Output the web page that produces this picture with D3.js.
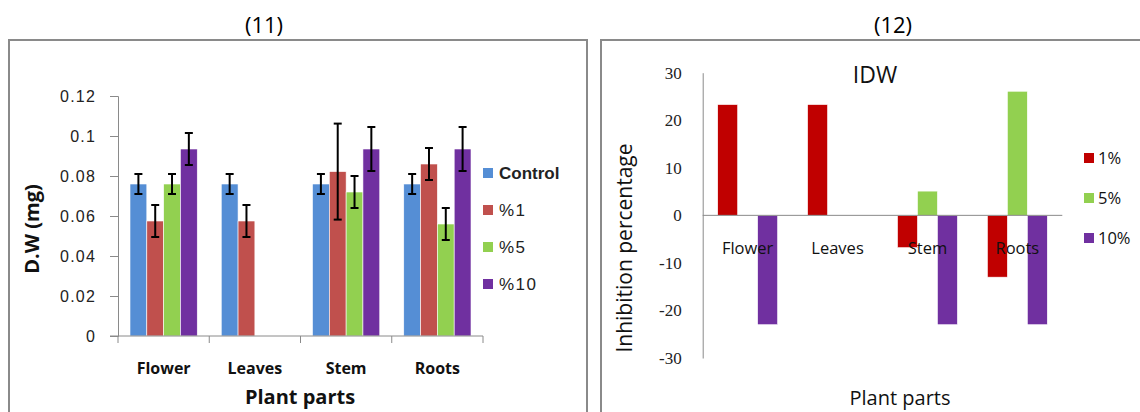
<!DOCTYPE html>
<html><head><meta charset="utf-8">
<script src="https://cdn.jsdelivr.net/npm/d3@7"></script>
<style>html,body{margin:0;padding:0;background:#fff;}svg{display:block;}</style>
</head><body>
<svg id="c" width="1140" height="412"></svg>
<script>
// ---------- data ----------
const categories = ["Flower", "Leaves", "Stem", "Roots"];
const dwSeries = ["Control", "%1", "%5", "%10"];
const dwControl = [0.076, 0.076, 0.076, 0.076];
const dwP1 = [0.0575, 0.0575, 0.0822, 0.086];
const dwP5 = [0.076, null, 0.072, 0.056];
const dwP10 = [0.0935, null, 0.0935, 0.0935];
const errControl = [0.005, 0.005, 0.005, 0.005];
const errP1 = [0.008, 0.008, 0.024, 0.008];
const errP5 = [0.005, null, 0.008, 0.008];
const errP10 = [0.008, null, 0.011, 0.011];
const dwTicks = [0, 0.02, 0.04, 0.06, 0.08, 0.1, 0.12];
const dwTickLabels = ["0", "0.02", "0.04", "0.06", "0.08", "0.1", "0.12"];

const idwSeries = ["1%", "5%", "10%"];
const idw1 = [23.3, 23.3, -6.8, -13];
const idw5 = [0, 0, 5.1, 26.1];
const idw10 = [-23, null, -23, -23];
const idwTicks = [-30, -20, -10, 0, 10, 20, 30];

const dwColors = ["#558ED5", "#C0504D", "#92D050", "#7030A0"];
const idwColors = ["#C00000", "#92D050", "#7030A0"];

const svg = d3.select("#c");
const CAL = "'Open Sans', Lato, sans-serif";
const ARI = "'Liberation Sans', Arial, sans-serif";
const SER = "'Liberation Serif', 'Times New Roman', Tinos, 'DejaVu Serif', serif";

// frames
svg.append("rect").attr("x", 9).attr("y", 40).attr("width", 578).attr("height", 390)
  .attr("fill", "none").attr("stroke", "#8a8a8a").attr("stroke-width", 2);
svg.append("rect").attr("x", 601).attr("y", 40).attr("width", 560).attr("height", 390)
  .attr("fill", "none").attr("stroke", "#8a8a8a").attr("stroke-width", 2);

svg.append("text").attr("x", 264).attr("y", 33).attr("text-anchor", "middle")
  .style("font-family", CAL).style("font-size", "22px").attr("fill", "#000").text("(11)");
svg.append("text").attr("x", 893).attr("y", 33).attr("text-anchor", "middle")
  .style("font-family", CAL).style("font-size", "22px").attr("fill", "#000").text("(12)");

// ---------- left chart ----------
{
  const means = [dwControl, dwP1, dwP5, dwP10];
  const errs = [errControl, errP1, errP5, errP10];
  const x0 = d3.scaleBand().domain(categories).range([118, 483]);
  const bw = x0.bandwidth();
  const x1 = d3.scaleBand().domain(dwSeries).range([12, bw - 12]);
  const y = d3.scaleLinear().domain([0, 0.12]).range([336, 96]);
  const g = svg.append("g");

  const data = [];
  categories.forEach((c, i) => dwSeries.forEach((s, j) => {
    if (means[j][i] != null) data.push({c, s, j, v: means[j][i], e: errs[j][i]});
  }));

  g.selectAll("rect.bar").data(data).enter().append("rect")
    .attr("x", d => x0(d.c) + x1(d.s)).attr("width", x1.bandwidth())
    .attr("y", d => y(d.v)).attr("height", d => y(0) - y(d.v))
    .attr("fill", d => dwColors[d.j]).attr("stroke", "#fff").attr("stroke-width", 0.6);

  // error bars
  const eb = g.selectAll("g.eb").data(data.filter(d => d.e != null)).enter().append("g")
    .attr("stroke", "#000").attr("stroke-width", 2);
  const cx = d => x0(d.c) + x1(d.s) + x1.bandwidth() / 2;
  eb.append("line").attr("x1", cx).attr("x2", cx).attr("y1", d => y(d.v + d.e)).attr("y2", d => y(d.v - d.e));
  eb.append("line").attr("x1", d => cx(d) - 4).attr("x2", d => cx(d) + 4).attr("y1", d => y(d.v + d.e)).attr("y2", d => y(d.v + d.e));
  eb.append("line").attr("x1", d => cx(d) - 4).attr("x2", d => cx(d) + 4).attr("y1", d => y(d.v - d.e)).attr("y2", d => y(d.v - d.e));

  // y axis
  const ya = g.append("g").attr("transform", "translate(118,0)")
    .call(d3.axisLeft(y).tickValues(dwTicks).tickFormat((d, i) => dwTickLabels[i]).tickSize(8).tickPadding(14));
  ya.select(".domain").attr("stroke", "#8a8a8a");
  ya.selectAll(".tick line").attr("stroke", "#8a8a8a");
  ya.selectAll(".tick text").style("font-family", ARI).style("font-size", "16px").attr("fill", "#222")
    .attr("letter-spacing", 1.2);

  // x axis
  const xa = g.append("g").attr("transform", "translate(0,336)");
  xa.append("line").attr("x1", 110).attr("x2", 483).attr("y1", 0).attr("y2", 0).attr("stroke", "#8a8a8a");
  const bounds = categories.map(c => x0(c)).concat([483]);
  xa.selectAll("line.tk").data(bounds).enter().append("line")
    .attr("x1", d => d).attr("x2", d => d).attr("y1", 0).attr("y2", 7).attr("stroke", "#8a8a8a");
  xa.selectAll("text").data(categories).enter().append("text")
    .attr("x", d => x0(d) + bw / 2).attr("y", 38).attr("text-anchor", "middle")
    .style("font-family", CAL).style("font-weight", "bold").style("font-size", "16px").attr("fill", "#111").text(d => d);

  g.append("text").attr("x", 300).attr("y", 404).attr("text-anchor", "middle")
    .style("font-family", CAL).style("font-weight", "bold").style("font-size", "20px").attr("fill", "#111").text("Plant parts");
  g.append("text").attr("transform", "translate(39,229) rotate(-90)").attr("text-anchor", "middle")
    .style("font-family", CAL).style("font-weight", "bold").style("font-size", "20px").attr("fill", "#111").text("D.W (mg)");

  // legend
  const lg = g.selectAll("g.lg").data(dwSeries).enter().append("g")
    .attr("transform", (d, i) => `translate(483,${173 + i * 37})`);
  lg.append("rect").attr("x", 0).attr("y", -5).attr("width", 10).attr("height", 10).attr("fill", (d, i) => dwColors[i]);
  lg.append("text").attr("x", 16).attr("y", 6).style("font-family", ARI).style("font-size", "17px")
    .style("font-weight", (d, i) => i === 0 ? "bold" : "normal").attr("letter-spacing", (d, i) => i === 0 ? 0 : 1.5)
    .attr("fill", "#222").text(d => d);
}

// ---------- right chart ----------
{
  const vals = [idw1, idw5, idw10];
  const x0 = d3.scaleBand().domain(categories).range([702.7, 1062.3]);
  const bw = x0.bandwidth();
  const x1 = d3.scaleBand().domain(idwSeries).range([15, bw - 15]);
  const y = d3.scaleLinear().domain([-30, 30]).range([358, 72.7]);
  const g = svg.append("g");

  const data = [];
  categories.forEach((c, i) => idwSeries.forEach((s, j) => {
    if (vals[j][i] != null && vals[j][i] !== 0) data.push({c, s, j, v: vals[j][i]});
  }));
  g.selectAll("rect.bar").data(data).enter().append("rect")
    .attr("x", d => x0(d.c) + x1(d.s)).attr("width", x1.bandwidth())
    .attr("y", d => y(Math.max(0, d.v))).attr("height", d => Math.abs(y(d.v) - y(0)))
    .attr("fill", d => idwColors[d.j]).attr("stroke", "#fff").attr("stroke-width", 0.6);

  // y axis
  const ya = g.append("g").attr("transform", "translate(702.7,0)")
    .call(d3.axisLeft(y).tickValues(idwTicks).tickFormat(d => String(d)).tickSize(0).tickPadding(21));
  ya.attr("font-family", null);
  ya.select(".domain").attr("stroke", "#8a8a8a");
  ya.selectAll(".tick text").style("font-family", SER).style("font-size", "17px").attr("fill", "#222");

  // zero line
  g.append("line").attr("x1", 702.7).attr("x2", 1062.3).attr("y1", y(0)).attr("y2", y(0)).attr("stroke", "#8a8a8a");

  g.selectAll("text.cat").data(categories).enter().append("text")
    .attr("x", d => x0(d) + bw / 2).attr("y", 254).attr("text-anchor", "middle")
    .style("font-family", CAL).style("font-size", "16.5px").attr("fill", "#111").text(d => d);

  g.append("text").attr("x", 875).attr("y", 83).attr("text-anchor", "middle")
    .style("font-family", CAL).style("font-size", "23px").attr("fill", "#111").text("IDW");
  g.append("text").attr("x", 900).attr("y", 405).attr("text-anchor", "middle")
    .style("font-family", CAL).style("font-size", "20px").attr("fill", "#111").text("Plant parts");
  g.append("text").attr("transform", "translate(632,248) rotate(-90)").attr("text-anchor", "middle")
    .style("font-family", CAL).style("font-size", "21px").attr("fill", "#111").text("Inhibition percentage");

  const lg = g.selectAll("g.lg").data(idwSeries).enter().append("g")
    .attr("transform", (d, i) => `translate(1084,${158 + i * 40})`);
  lg.append("rect").attr("x", 0).attr("y", -5).attr("width", 10).attr("height", 10).attr("fill", (d, i) => idwColors[i]);
  lg.append("text").attr("x", 14).attr("y", 6).style("font-family", CAL).style("font-size", "16.5px")
    .attr("fill", "#111").text(d => d);
}
</script>
</body></html>
